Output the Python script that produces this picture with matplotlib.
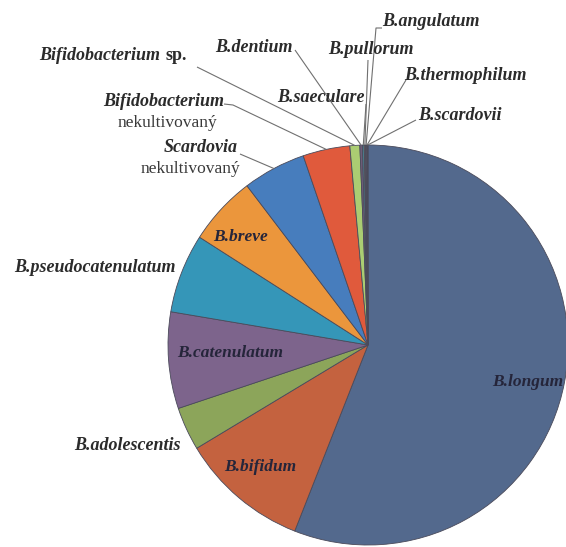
import matplotlib
matplotlib.use('Agg')
import matplotlib.pyplot as plt
import numpy as np

W, H = 566, 547

# slice values in percent, clockwise from 12 o'clock
labels = [
    'B.longum', 'B.bifidum', 'B.adolescentis', 'B.catenulatum',
    'B.pseudocatenulatum', 'B.breve', 'Scardovia nekultivovaný',
    'Bifidobacterium nekultivovaný', 'Bifidobacterium sp.', 'B.dentium',
    'B.saeculare', 'B.pullorum', 'B.angulatum', 'B.thermophilum', 'B.scardovii',
]
values = [56.0, 10.4, 3.5, 7.8, 6.4, 5.6, 5.1, 3.8, 0.8, 0.2, 0.15, 0.1, 0.1, 0.05, 0.05]
colors = [
    '#53698d', '#c4623f', '#8ca55a', '#7d648c', '#3596b8', '#eb963c',
    '#477dbd', '#e05a3c', '#abcd72', '#6e5c78', '#4c7f8f', '#8a6a4a',
    '#55607a', '#8a4a40', '#6a7a4a',
]

CX, CY, R = 368, 345, 200

SERIF = 'Liberation Serif'
TXT = '#2b2b2b'


def px(x, y):
    # pixel coords (y down) -> data coords (y up)
    return x, H - y


fig = plt.figure(figsize=(W / 100, H / 100), dpi=100)
ax = fig.add_axes([0, 0, 1, 1])
wedges, _ = ax.pie(
    values, colors=colors, startangle=90, counterclock=False,
    center=px(CX, CY), radius=R,
    wedgeprops=dict(edgecolor='#4a4a5a', linewidth=0.6),
)
ax.set_xlim(0, W)
ax.set_ylim(0, H)
ax.set_aspect('equal')
ax.axis('off')

bi = dict(family=SERIF, fontweight='bold', fontstyle='italic', fontsize=13, color=TXT)
inner = dict(family=SERIF, fontweight='bold', fontstyle='italic', fontsize=12.5, color='#25253a')
plain = dict(family=SERIF, fontsize=12.5, color='#3a3a3a')

# labels placed inside the slices
for name, (x, y) in {
    'B.longum': (528, 382), 'B.bifidum': (260, 467),
    'B.catenulatum': (230, 353), 'B.breve': (241, 237),
}.items():
    ax.text(*px(x, y), name, ha='center', va='center', **inner)

# labels outside without leaders
ax.text(*px(95, 267), 'B.pseudocatenulatum', ha='center', va='center', **bi)
ax.text(*px(127, 445), 'B.adolescentis', ha='center', va='center', **bi)

# labels with leader lines
ax.text(*px(160, 55), 'Bifidobacterium', ha='right', va='center', **bi)
ax.text(*px(165, 55), 'sp.', ha='left', va='center',
        family=SERIF, fontweight='bold', fontsize=13, color=TXT)
ax.text(*px(164, 102), 'Bifidobacterium', ha='center', va='center', **bi)
ax.text(*px(167, 123), 'nekultivovaný', ha='center', va='center', **plain)
ax.text(*px(238, 148), 'Scardovia', ha='right', va='center', **bi)
ax.text(*px(240, 169), 'nekultivovaný', ha='right', va='center', **plain)
ax.text(*px(254, 47), 'B.dentium', ha='center', va='center', **bi)
ax.text(*px(321, 97), 'B.saeculare', ha='center', va='center', **bi)
ax.text(*px(371, 50), 'B.pullorum', ha='center', va='center', **bi)
ax.text(*px(431, 22), 'B.angulatum', ha='center', va='center', **bi)
ax.text(*px(465, 75), 'B.thermophilum', ha='center', va='center', **bi)
ax.text(*px(460, 115), 'B.scardovii', ha='center', va='center', **bi)

# leader start points near the text; the end is the slice's mid point on the rim
leaders = {
    'Bifidobacterium sp.': [(197, 67)],
    'Bifidobacterium nekultivovaný': [(224, 104), (233, 105)],
    'Scardovia nekultivovaný': [(240, 154)],
    'B.dentium': [(295, 50)],
    'B.saeculare': [(366, 104)],
    'B.pullorum': [(368, 60)],
    'B.angulatum': [(382, 28), (376, 28)],
    'B.thermophilum': [(406, 80)],
    'B.scardovii': [(416, 120)],
}
for name, pts in leaders.items():
    w = wedges[labels.index(name)]
    a = np.deg2rad((w.theta1 + w.theta2) / 2)
    ex, ey = w.center[0] + R * np.cos(a), w.center[1] + R * np.sin(a)
    xs = [px(*p)[0] for p in pts] + [ex]
    ys = [px(*p)[1] for p in pts] + [ey]
    ax.plot(xs, ys, color='#707070', linewidth=0.8, solid_capstyle='butt')

fig.savefig('out.png', dpi=100)
